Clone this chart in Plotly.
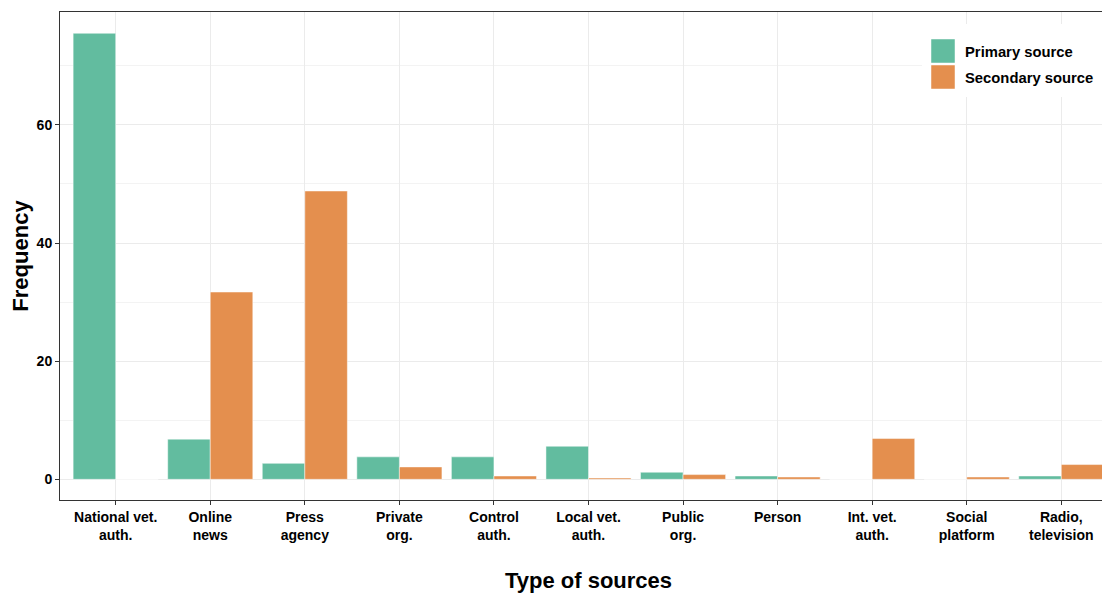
import plotly.graph_objects as go

categories = ["National vet.<br>auth.", "Online<br>news", "Press<br>agency", "Private<br>org.",
              "Control<br>auth.", "Local vet.<br>auth.", "Public<br>org.", "Person",
              "Int. vet.<br>auth.", "Social<br>platform", "Radio,<br>television"]
primary = [75.5, 6.8, 2.7, 3.8, 3.8, 5.6, 1.2, 0.56, 0, 0, 0.56]
secondary = [0, 31.7, 48.8, 2.1, 0.56, 0.22, 0.8, 0.39, 6.9, 0.39, 2.5]
y_ticks = [0, 20, 40, 60]
series_names = ["Primary source", "Secondary source"]
series_colors = ["#62BC9F", "#E48F4E"]

FONT = "Liberation Sans, Arial"
x = list(range(len(categories)))

# page offset (default body margin) and plot-area geometry in screen pixels
OFF = 8
L, R, T, B = 60, 1117, 12, 500
W, H = R - L, B - T
def px(v): return (v - L) / W
def py(v): return (B - v) / H

fig = go.Figure()
for vals, name, col in zip([primary, secondary], series_names, series_colors):
    fig.add_trace(go.Bar(x=x, y=vals, name=name, showlegend=False,
                         marker=dict(color=col, line=dict(color="rgba(255,255,255,0.6)", width=0.8))))

shapes = [dict(type="rect", xref="paper", yref="paper", x0=px(922), x1=px(1106),
               y0=py(97), y1=py(24), fillcolor="white", line=dict(width=0), layer="above")]
annotations = []
for i, (name, col) in enumerate(zip(series_names, series_colors)):
    top = 39 + i * 26
    shapes.append(dict(type="rect", xref="paper", yref="paper", x0=px(931), x1=px(955),
                       y0=py(top + 24), y1=py(top), fillcolor=col,
                       line=dict(color="rgba(255,255,255,0.6)", width=0.8), layer="above"))
    annotations.append(dict(xref="paper", yref="paper", x=px(963), y=py(top + 12.5),
                            xanchor="left", yanchor="middle", showarrow=False, text=name,
                            font=dict(family=FONT, size=14.8, color="black", weight="bold")))

fig.update_layout(
    width=R + 2 - OFF, height=597 - OFF,
    margin=dict(l=L - OFF, r=2, t=T - OFF, b=597 - B),
    paper_bgcolor="white", plot_bgcolor="white",
    barmode="group", bargap=0.1, bargroupgap=0,
    font=dict(family=FONT, color="black"),
    showlegend=False,
    shapes=shapes, annotations=annotations,
    xaxis=dict(
        range=[-0.589, 10.589], tickmode="array", tickvals=x, ticktext=categories,
        showgrid=True, gridcolor="#EBEBEB", gridwidth=1,
        showline=True, linecolor="#333333", linewidth=1, mirror=True,
        ticks="outside", ticklen=4, tickcolor="#333333", automargin=False,
        tickfont=dict(family=FONT, size=14, color="black", weight="bold"),
        title=dict(text="Type of sources", standoff=30,
                   font=dict(family=FONT, size=22, color="black", weight="bold")),
        zeroline=False,
    ),
    yaxis=dict(
        range=[-3.5, 79.1], tickmode="array", tickvals=y_ticks,
        showgrid=True, gridcolor="#EBEBEB", gridwidth=1,
        minor=dict(tickvals=[10, 30, 50, 70], showgrid=True, gridcolor="#F3F3F3", gridwidth=1),
        showline=True, linecolor="#333333", linewidth=1, mirror=True,
        ticks="outside", ticklen=4, tickcolor="#333333", automargin=False,
        tickfont=dict(family=FONT, size=14, color="black", weight="bold"),
        title=dict(text="Frequency", standoff=3,
                   font=dict(family=FONT, size=22, color="black", weight="bold")),
        zeroline=False,
    ),
)

fig.write_html("out.html")
